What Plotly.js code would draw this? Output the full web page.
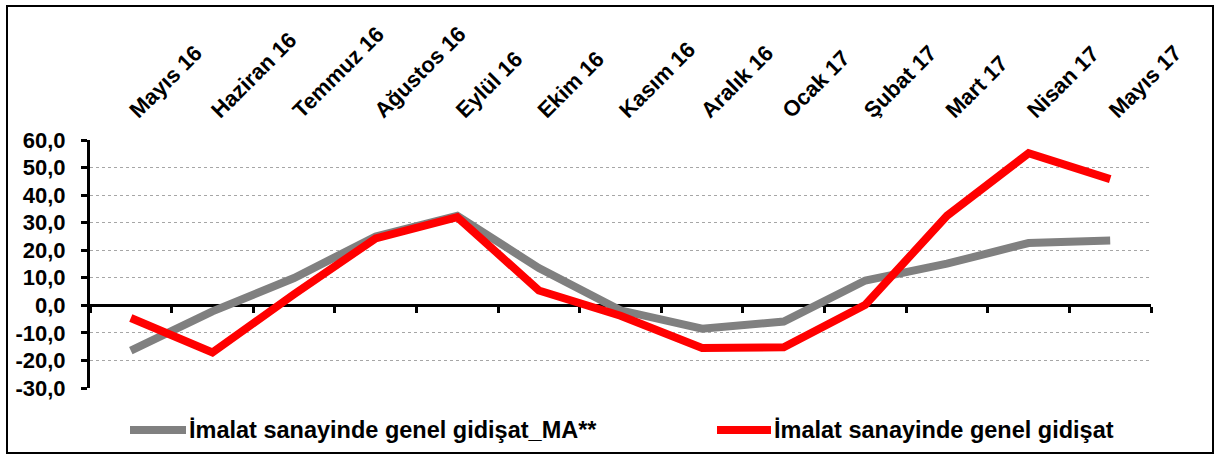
<!DOCTYPE html>
<html>
<head>
<meta charset="utf-8">
<script src="https://cdn.plot.ly/plotly-3.0.1.min.js"></script>
<style>
  html, body { margin: 0; padding: 0; background: #ffffff; }
  #chart { width: 1217px; height: 455px; }
</style>
</head>
<body>
<div id="chart"></div>
<script>
const categories = ["Mayıs 16", "Haziran 16", "Temmuz 16", "Ağustos 16", "Eylül 16", "Ekim 16",
  "Kasım 16", "Aralık 16", "Ocak 17", "Şubat 17", "Mart 17", "Nisan 17", "Mayıs 17"];
const seriesMA = [-16.4, -2.2, 9.9, 25.0, 32.5, 13.5, -1.8, -8.5, -5.9, 9.0, 15.1, 22.6, 23.5];
const seriesMain = [-4.6, -17.1, 4.0, 24.3, 32.0, 5.4, -3.8, -15.5, -15.2, 0.2, 32.5, 55.2, 45.8];
const nameMA = "İmalat sanayinde genel gidişat_MA**";
const nameMain = "İmalat sanayinde genel gidişat";
const yTickVals = [-30, -20, -10, 0, 10, 20, 30, 40, 50, 60];
const yTickText = yTickVals.map(v => v.toFixed(1).replace('.', ','));

const FONT = "Liberation Sans, Arial, sans-serif";
const W = 1217, H = 455;
const M = {l: 90, r: 66, t: 140, b: 67};
const pw = W - M.l - M.r, ph = H - M.t - M.b;
const px2x = p => (p - M.l) / pw;
const px2y = p => (H - M.b - p) / ph;

const n = categories.length;
const boundaries = [];
for (let i = 0; i <= n; i++) boundaries.push(i - 0.5);
const yMin = yTickVals[0], yMax = yTickVals[yTickVals.length - 1];

const COLOR_MA = "#808080", COLOR_MAIN = "#ff0000";

const traces = [
  {x: boundaries, y: boundaries.map(() => 0), type: "scatter", mode: "lines", opacity: 0,
   showlegend: false, hoverinfo: "skip", xaxis: "x2", yaxis: "y", line: {width: 0}},
  {x: categories, y: seriesMA, name: nameMA, type: "scatter", mode: "lines",
   line: {color: COLOR_MA, width: 8}, xaxis: "x", yaxis: "y"},
  {x: categories, y: seriesMain, name: nameMain, type: "scatter", mode: "lines",
   line: {color: COLOR_MAIN, width: 8}, xaxis: "x", yaxis: "y"}
];

// Manual legend (line samples + labels)
const legendY = px2y(430);
const legendItems = [
  {name: nameMA, color: COLOR_MA, x0: 130, x1: 186},
  {name: nameMain, color: COLOR_MAIN, x0: 717, x1: 771}
];
const legendShapes = legendItems.map(it => ({
  type: "line", xref: "paper", yref: "paper", x0: px2x(it.x0), x1: px2x(it.x1), y0: legendY, y1: legendY,
  line: {color: it.color, width: 8}
}));
const legendAnnotations = legendItems.map(it => ({
  xref: "paper", yref: "paper", x: px2x(it.x1 + 1), y: legendY, xanchor: "left", yanchor: "middle",
  text: it.name, showarrow: false, font: {family: FONT, size: 23.5, weight: "bold", color: "#000"}
}));

const layout = {
  width: W, height: H,
  margin: M,
  paper_bgcolor: "#ffffff", plot_bgcolor: "#ffffff",
  font: {family: FONT, color: "#000000"},
  showlegend: false,
  xaxis: {type: "category", side: "top", range: [-0.5, n - 0.5], showgrid: false, showline: false,
    ticks: "", tickangle: -45, ticklabelstandoff: 12, automargin: false,
    tickfont: {family: FONT, size: 22, weight: "bold", color: "#000"}, fixedrange: true},
  xaxis2: {overlaying: "x", anchor: "free", position: (0 - yMin) / (yMax - yMin), side: "bottom",
    range: [-0.5, n - 0.5], tickvals: boundaries, showticklabels: false, showgrid: false,
    showline: true, linecolor: "#000", linewidth: 3, ticks: "outside", ticklen: 6, tickwidth: 3,
    tickcolor: "#000", layer: "below traces", zeroline: false, automargin: false},
  yaxis: {range: [yMin, yMax], tickvals: yTickVals, ticktext: yTickText, showgrid: true,
    gridcolor: "#a6a6a6", griddash: "dot", gridwidth: 1, zeroline: false, automargin: false,
    showline: true, linecolor: "#000", linewidth: 3, ticks: "outside", ticklen: 6, tickwidth: 3,
    tickcolor: "#000", ticklabelstandoff: 11,
    tickfont: {family: FONT, size: 22, weight: "bold", color: "#000"}},
  shapes: [
    {type: "rect", xref: "paper", yref: "paper", x0: px2x(7), x1: px2x(1213), y0: px2y(453), y1: px2y(6),
     line: {color: "#000", width: 2}, fillcolor: "rgba(0,0,0,0)", layer: "below"}
  ].concat(legendShapes),
  annotations: legendAnnotations
};

Plotly.newPlot("chart", traces, layout, {displayModeBar: false, staticPlot: true});
</script>
</body>
</html>
